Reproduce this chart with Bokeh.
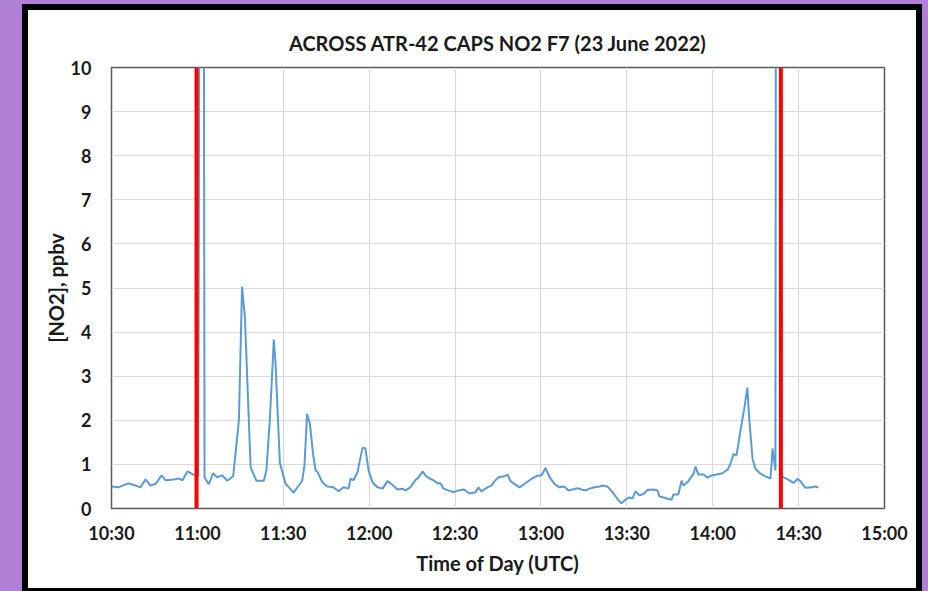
from bokeh.plotting import figure
from bokeh.models import Span, FixedTicker
from bokeh.embed import file_html
from bokeh.resources import INLINE

# ---- data (time in minutes after midnight UTC, NO2 in ppbv) ----
time_min = [
    630.0, 632.4, 635.9, 638.4, 640.1, 641.9, 643.6, 645.4, 647.5, 648.9,
    651.7, 653.4, 654.8, 656.5, 658.6, 660.3, 660.8, 662.2, 662.5, 664.0,
    665.5, 666.9, 668.7, 670.4, 672.5, 674.5, 675.6, 676.6, 678.6, 680.6,
    683.2, 684.1, 685.3, 686.7, 687.3, 688.8, 690.8, 691.8, 693.6, 695.3,
    696.6, 697.4, 698.3, 699.3, 700.4, 701.3, 702.0, 703.7, 705.4, 707.5,
    709.3, 711.0, 712.8, 713.5, 714.5, 715.9, 716.6, 717.7, 718.7, 719.8,
    721.2, 722.9, 724.7, 726.4, 728.1, 729.9, 731.6, 732.7, 734.4, 736.2,
    737.2, 738.6, 739.7, 741.1, 742.5, 743.9, 744.9, 746.0, 747.7, 749.5,
    751.2, 752.9, 753.6, 755.0, 757.1, 758.2, 759.2, 761.3, 762.7, 763.8,
    765.2, 767.3, 768.3, 769.4, 771.1, 772.5, 774.3, 776.0, 777.7, 779.1,
    780.2, 781.6, 783.0, 784.7, 786.5, 788.2, 789.6, 791.0, 792.8, 794.2,
    795.6, 797.0, 798.7, 800.5, 801.5, 803.2, 805.0, 806.7, 808.1, 809.5,
    810.9, 812.0, 813.0, 814.4, 815.8, 817.2, 819.3, 820.7, 821.4, 822.8,
    824.2, 825.6, 826.3, 828.0, 829.1, 829.8, 831.5, 833.3, 834.0, 835.0,
    836.8, 838.2, 839.6, 841.3, 843.4, 845.2, 846.2, 847.3, 848.3, 849.7,
    851.1, 852.1, 852.8, 853.9, 854.9, 856.7, 858.4, 860.2, 860.9, 861.9,
    862.1, 863.5, 863.9, 864.6, 866.5, 868.2, 869.6, 870.6, 872.4, 874.8,
    875.5, 876.9,
]
no2_ppbv = [
    0.50, 0.48, 0.57, 0.52, 0.48, 0.66, 0.52, 0.56, 0.75, 0.64,
    0.66, 0.68, 0.64, 0.84, 0.77, 0.73, 15.0, 15.0, 0.70, 0.55,
    0.80, 0.71, 0.75, 0.63, 0.73, 2.00, 5.03, 4.33, 0.93, 0.63,
    0.63, 0.86, 2.00, 3.83, 3.29, 1.04, 0.56, 0.49, 0.36, 0.51,
    0.63, 0.97, 2.14, 1.92, 1.24, 0.86, 0.82, 0.59, 0.50, 0.48,
    0.39, 0.48, 0.45, 0.68, 0.64, 0.82, 1.04, 1.38, 1.36, 0.86,
    0.59, 0.48, 0.45, 0.62, 0.54, 0.43, 0.45, 0.41, 0.48, 0.65,
    0.70, 0.84, 0.75, 0.68, 0.64, 0.57, 0.57, 0.45, 0.41, 0.37,
    0.41, 0.43, 0.41, 0.34, 0.37, 0.48, 0.39, 0.48, 0.52, 0.62,
    0.71, 0.73, 0.77, 0.62, 0.54, 0.48, 0.56, 0.64, 0.71, 0.75,
    0.75, 0.92, 0.71, 0.56, 0.48, 0.50, 0.41, 0.43, 0.46, 0.43,
    0.41, 0.45, 0.48, 0.50, 0.52, 0.50, 0.37, 0.22, 0.12, 0.20,
    0.25, 0.23, 0.39, 0.30, 0.33, 0.42, 0.43, 0.41, 0.27, 0.25,
    0.22, 0.20, 0.32, 0.32, 0.63, 0.52, 0.62, 0.79, 0.95, 0.77,
    0.77, 0.70, 0.75, 0.77, 0.80, 0.88, 1.01, 1.24, 1.20, 1.77,
    2.30, 2.74, 2.00, 1.13, 0.90, 0.79, 0.73, 0.68, 1.36, 0.86,
    15.0, 15.0, 0.75, 0.71, 0.65, 0.58, 0.67, 0.62, 0.47, 0.48,
    0.50, 0.48,
]
# red markers (start / end of flight window), minutes after midnight
marker_min = [659.7, 863.8]

x_ticks = [630, 660, 690, 720, 750, 780, 810, 840, 870, 900]
x_tick_labels = ["10:30", "11:00", "11:30", "12:00", "12:30",
                 "13:00", "13:30", "14:00", "14:30", "15:00"]
y_ticks = [0, 1, 2, 3, 4, 5, 6, 7, 8, 9, 10]

FONT = "Lato"
TXT = "#1a1a1a"

p = figure(width=888, height=578, x_range=(630, 900), y_range=(0, 10),
           output_backend="svg", toolbar_location=None,
           min_border_left=83, min_border_right=32,
           min_border_top=57, min_border_bottom=80,
           title="ACROSS ATR-42 CAPS NO2 F7 (23 June 2022)")

# slide look: white panel, thick black frame, purple surroundings
p.styles = {
    "outline": "6px solid black",
    "box-shadow": "0 0 0 80px #b07fd6",
    "margin-left": "28px",
    "margin-top": "10px",
}
p.border_fill_color = "white"
p.background_fill_color = "white"

p.title.align = "center"
p.title.vertical_align = "top"
p.title.text_font = FONT
p.title.text_font_size = "20px"
p.title.text_font_style = "bold"
p.title.text_color = TXT
p.title.standoff = 22

p.outline_line_color = "#595959"
p.outline_line_width = 1.5

p.line(time_min, no2_ppbv, line_color="#5b9bd5", line_width=2)

for m in marker_min:
    p.add_layout(Span(location=m, dimension="height",
                      line_color="#ff0000", line_width=4))

p.xaxis.ticker = FixedTicker(ticks=x_ticks)
p.xaxis.major_label_overrides = {t: lab for t, lab in zip(x_ticks, x_tick_labels)}
p.yaxis.ticker = FixedTicker(ticks=y_ticks)

for ax in (p.xaxis, p.yaxis):
    ax.axis_line_color = None
    ax.major_tick_line_color = None
    ax.minor_tick_line_color = None
    ax.major_label_text_font = FONT
    ax.major_label_text_font_style = "bold"
    ax.major_label_text_font_size = "18px"
    ax.major_label_text_color = TXT
    ax.axis_label_text_font = FONT
    ax.axis_label_text_font_style = "bold"
    ax.axis_label_text_color = TXT

p.xaxis.axis_label = "Time of Day (UTC)"
p.yaxis.axis_label = "[NO2], ppbv"
p.xaxis.axis_label_text_font_size = "20px"
p.yaxis.axis_label_text_font_size = "20px"
p.xaxis.major_label_standoff = 7
p.xaxis.axis_label_standoff = 4
p.yaxis.major_label_standoff = 14
p.yaxis.axis_label_standoff = 0

p.xgrid.grid_line_color = "#d9d9d9"
p.ygrid.grid_line_color = "#d9d9d9"
p.xgrid.grid_line_width = 1.2
p.ygrid.grid_line_width = 1.2

open("out.html", "w").write(file_html(p, INLINE))
